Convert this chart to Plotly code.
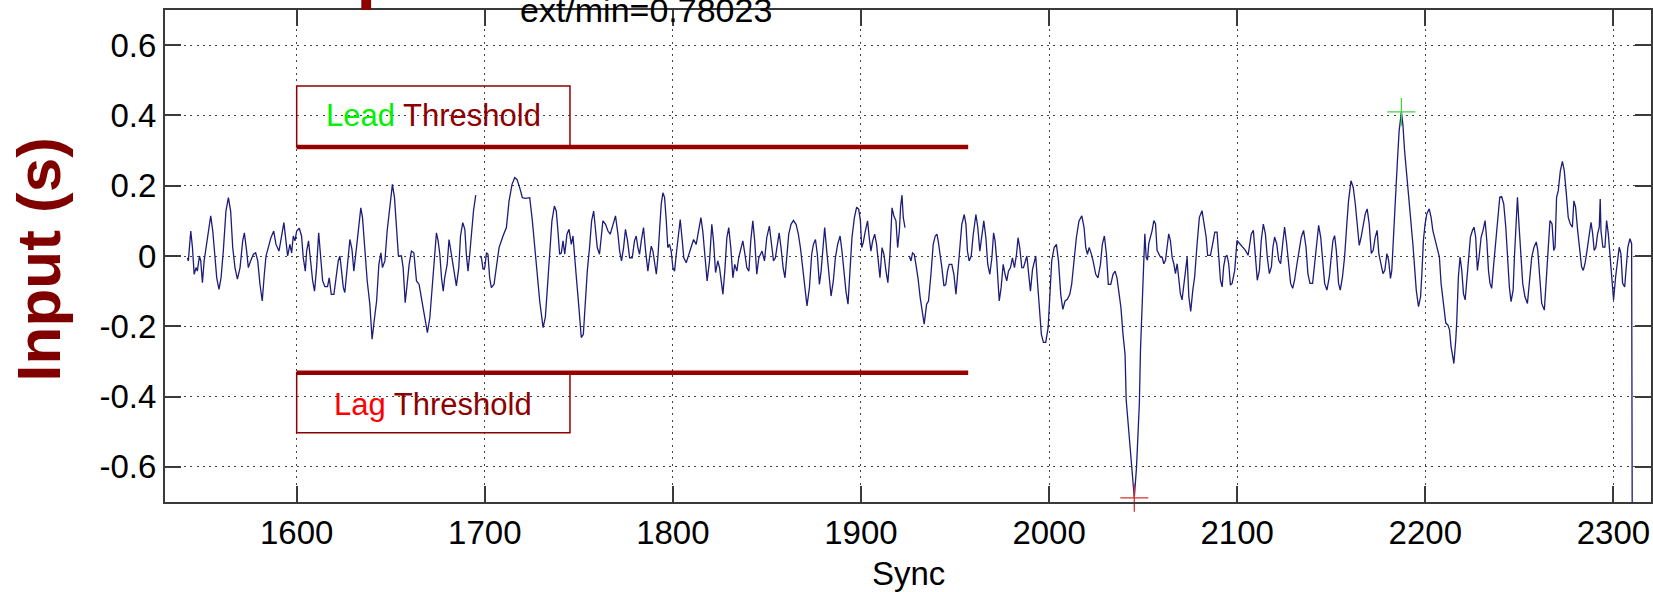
import numpy as np
import plotly.graph_objects as go

# Sync index (x) and measured input offset in seconds (y); None marks gaps in the record
sync = [
    1541.9, 1542.4, 1543.7, 1544.6, 1545.5, 1546.5, 1547.2, 1548.3, 1549.0, 1549.9,
    1550.8, 1551.8, 1553.1, 1554.3, 1555.4, 1556.3, 1557.5, 1558.7, 1559.8, 1561.0,
    1562.4, 1563.7, 1564.9, 1566.0, 1567.2, 1568.5, 1569.9, 1571.3, 1572.2, 1573.4,
    1574.3, 1575.5, 1577.0, 1578.2, 1579.3, 1580.5, 1581.7, 1582.8, 1583.7, 1584.9,
    1586.3, 1587.8, 1589.0, 1590.6, 1592.0, 1593.2, 1594.3, 1595.2, 1596.4, 1597.3,
    1598.2, 1599.1, 1600.0, 1601.4, 1602.6, 1603.5, 1604.6, 1605.3, 1606.3, 1607.4,
    1608.5, 1609.5, 1610.6, 1611.7, 1612.7, 1613.8, 1615.0, 1616.4, 1617.3, 1618.4,
    1619.8, 1621.2, 1622.1, 1623.0, 1623.9, 1624.8, 1625.6, 1626.9, 1628.3, 1629.4,
    1630.4, 1631.8, 1633.1, 1634.1, 1635.0, 1636.3, 1637.5, 1638.9, 1640.1, 1641.2,
    1642.5, 1643.7, 1644.8, 1645.6, 1646.9, 1648.1, 1649.5, 1650.9, 1652.0, 1653.1,
    1654.1, 1655.7, 1656.6, 1657.7, 1658.7, 1659.8, 1661.0, 1662.3, 1663.7, 1665.1,
    1666.3, 1668.1, 1669.5, 1670.8, 1671.7, 1672.9, 1674.3, 1675.2, 1676.1, 1677.0,
    1677.9, 1678.7, 1680.0, 1681.0, 1682.3, 1683.5, 1684.9, 1686.2, 1687.1, 1688.3,
    1689.4, 1690.2, 1691.1, 1692.0, 1692.9, 1694.0, 1695.2, None,
    1697.3, 1698.2, 1699.1, 1700.0, 1700.9, 1701.7, 1702.6, 1703.5, 1704.9, 1706.2,
    1707.6, 1709.7, 1711.5, 1712.9, 1714.5, 1715.9, 1717.1, 1718.6, 1720.0, 1721.6,
    1723.9, 1725.3, 1726.5, 1727.9, 1729.2, 1731.0, 1732.2, 1733.3, 1734.5, 1735.7,
    1737.0, 1738.0, 1738.9, 1739.8, 1740.7, 1741.6, 1742.5, 1743.7, 1744.8, 1746.0,
    1746.9, 1747.8, 1748.7, 1749.9, 1751.3, 1752.4, 1753.4, 1754.5, 1755.7, 1756.8,
    1757.9, 1758.9, 1759.8, 1761.0, 1761.9, 1762.8, 1764.2, 1765.5, 1766.7, 1768.1,
    1769.5, 1770.8, 1771.7, 1772.7, 1773.8, 1774.8, 1775.9, 1777.0, 1778.4, 1779.6,
    1780.5, 1781.4, 1782.3, 1783.2, 1784.4, 1785.5, 1786.7, 1787.6, 1788.5, 1789.4,
    1790.3, 1791.2, 1792.0, 1792.9, 1793.8, 1794.7, 1795.6, 1796.5, 1797.3, 1798.2,
    1799.1, 1800.0, 1800.9, 1801.8, 1802.7, 1803.9, 1805.0, 1805.8, 1807.1, 1808.5,
    1809.7, 1811.0, 1812.4, 1813.6, 1814.9, 1815.9, 1817.0, 1818.2, 1819.5, 1820.7,
    1821.6, 1822.7, 1823.9, 1824.8, 1825.7, 1826.6, 1827.6, 1828.7, 1829.7, 1830.8,
    1831.9, 1832.9, 1834.0, 1835.0, 1836.3, 1837.2, 1838.2, 1839.3, 1840.4, 1841.4,
    1842.5, 1843.5, 1844.6, 1845.7, 1846.6, 1847.4, 1848.7, 1849.9, 1851.3, 1852.4,
    1853.5, 1854.5, 1855.6, 1856.5, 1857.5, 1858.6, 1859.6, 1860.5, 1861.6, 1862.8,
    1864.1, 1865.5, 1866.7, 1867.8, 1869.0, 1870.3, 1871.3, 1872.6, 1873.8, 1874.7,
    1875.8, 1876.8, 1877.9, 1878.8, 1879.7, 1880.7, 1881.8, 1882.8, 1884.1, 1885.3,
    1886.4, 1887.6, 1888.9, 1889.9, 1891.0, 1892.0, 1893.1, 1894.2, 1895.2, 1896.5,
    1897.7, 1898.8, 1899.7, 1900.4, 1901.2, 1902.3, 1903.5, 1904.4, 1905.3, 1906.2,
    1907.3, 1908.3, 1909.2, 1910.1, 1911.2, 1912.2, 1913.3, 1914.3, 1915.4, 1916.5,
    1917.5, 1918.6, 1919.5, 1920.4, 1921.1, 1921.8, 1922.5, 1923.4, None,
    1925.7, 1926.6, 1927.4, 1928.3, 1929.2, 1930.3, 1931.5, 1932.8, 1933.6, 1934.9,
    1935.9, 1937.2, 1938.4, 1939.5, 1940.4, 1941.2, 1942.1, 1943.0, 1944.1, 1945.1,
    1946.0, 1946.9, 1948.3, 1949.4, 1950.5, 1951.5, 1952.6, 1953.6, 1954.9, 1955.8,
    1956.6, 1957.5, 1958.6, 1959.7, 1961.1, 1962.1, 1963.2, 1964.3, 1965.3, 1966.4,
    1967.4, 1968.5, 1969.6, 1970.5, 1971.3, 1972.2, 1973.5, 1974.5, 1975.6, 1976.6,
    1977.5, 1978.4, 1979.5, 1980.5, 1981.6, 1982.7, 1983.5, 1984.4, 1985.5, 1986.4,
    1987.3, 1988.2, 1989.0, 1990.1, 1991.2, 1992.9, 1993.8, 1994.7, 1995.9, 1997.0,
    1998.2, 1999.5, 2000.4, 2001.4, 2002.7, 2003.9, 2005.0, 2006.2, 2007.3, 2008.5,
    2009.7, 2011.0, 2012.0, 2013.3, 2014.5, 2015.9, 2017.4, 2018.6, 2019.5, 2020.4,
    2021.3, 2022.3, 2023.4, 2024.8, 2026.0, 2027.3, 2028.3, 2029.4, 2030.5, 2031.5,
    2032.8, 2034.0, 2035.1, 2036.1, 2037.2, 2038.2, 2039.3, 2040.4, 2041.0, 2043.0,
    2045.3, 2046.5, 2048.0, 2048.6, 2049.8, 2050.9, 2051.6, 2052.3, 2053.0, 2053.9,
    2054.8, 2055.7, 2056.6, 2057.4, 2058.3, 2059.2, 2060.1, 2061.0, 2061.9, 2062.8,
    2063.6, 2064.5, 2065.4, 2066.3, 2067.2, 2068.1, 2069.0, 2069.8, 2070.7, 2071.6,
    2072.5, 2073.4, 2074.3, 2075.3, 2076.4, 2077.4, 2078.7, 2079.9, 2081.3, 2082.4,
    2083.5, 2084.3, 2085.8, 2087.0, 2088.1, 2089.3, 2090.2, 2091.1, 2092.0, 2092.8,
    2093.7, 2094.6, 2095.5, 2096.4, 2097.3, 2098.7, 2099.9, 2101.2, 2102.6, 2104.4,
    2105.8, 2106.5, 2107.5, 2108.6, 2109.7, 2110.7, 2111.8, 2112.8, 2113.9, 2115.0,
    2116.0, 2117.1, 2118.2, 2119.0, 2119.9, 2121.0, 2122.1, 2123.1, 2124.2, 2125.2,
    2126.3, 2127.4, 2128.4, 2129.5, 2130.5, 2131.8, 2133.0, 2134.1, 2135.3, 2136.6,
    2137.6, 2138.7, 2140.1, 2141.2, 2142.2, 2143.3, 2144.4, 2145.4, 2146.5, 2147.7,
    2149.0, 2150.0, 2150.9, 2151.8, 2152.7, 2153.9, 2154.8, 2156.0, 2157.1, 2158.3,
    2159.2, 2160.5, 2161.7, 2162.8, 2163.8, 2164.9, 2165.9, 2167.0, 2168.1, 2169.1,
    2170.2, 2171.3, 2172.3, 2173.4, 2174.4, 2175.3, 2176.4, 2177.5, 2178.5, 2179.6,
    2180.5, 2181.5, 2182.2, 2183.1, 2184.0, 2185.1, 2186.1, 2187.3, 2188.1, 2189.0,
    2189.8, 2190.7, 2191.6, 2192.5, 2193.4, 2194.3, 2195.2, 2196.4, 2197.5, 2198.2,
    2199.0, 2199.9, 2200.8, 2202.1, 2203.1, 2204.0, 2204.9, 2205.8, 2206.7, 2207.5,
    2208.4, 2209.7, 2210.9, 2212.0, 2212.9, 2213.7, 2215.2, 2216.2, 2216.7, 2217.6,
    2218.5, 2219.4, 2220.3, 2221.2, 2222.1, 2222.9, 2224.0, 2225.1, 2225.9, 2226.8,
    2227.7, 2228.6, 2229.7, 2230.7, 2231.8, 2232.7, 2233.6, 2234.4, 2235.3, 2236.4,
    2237.5, 2238.5, 2239.6, 2240.6, 2241.7, 2242.8, 2243.8, 2244.7, 2245.6, 2246.7,
    2247.4, 2248.3, 2249.0, 2249.8, 2250.9, 2251.8, 2253.0, 2254.3, 2255.3, 2256.6,
    2257.8, 2259.0, 2259.8, 2260.8, 2261.9, 2263.3, 2264.4, 2265.1, 2266.3, 2267.4,
    2268.3, 2269.0, 2269.8, 2270.7, 2271.8, 2272.9, 2273.9, 2275.0, 2276.0, 2277.1,
    2278.2, 2279.0, 2279.9, 2281.0, 2282.1, 2283.1, 2284.0, 2284.9, 2286.0, 2287.0,
    2288.1, 2289.0, 2289.8, 2290.7, 2291.6, 2292.5, 2293.0, 2293.4, 2294.4, 2295.5,
    2296.4, 2297.3, 2298.2, 2299.1, 2300.1, 2301.2, 2302.2, 2303.1, 2304.0, 2304.9,
    2306.0, 2306.8, 2307.7, 2308.8, 2309.7, 2310.1,
]

offset_s = [
    -0.005, -0.014, 0.071, 0.024, -0.052, -0.033, -0.043, 0.0, -0.014, -0.076,
    -0.014, 0.024, 0.071, 0.114, 0.071, 0.005, -0.062, -0.095, -0.062, 0.014,
    0.128, 0.166, 0.128, 0.024, -0.033, -0.066, -0.033, 0.043, 0.066, 0.014,
    -0.033, -0.014, 0.005, 0.009, -0.014, -0.081, -0.128, -0.052, 0.0, 0.024,
    0.052, 0.071, 0.033, 0.014, 0.057, 0.095, 0.043, 0.0, 0.033, 0.009,
    0.057, 0.043, 0.071, 0.079, 0.057, -0.005, -0.043, 0.014, 0.043, -0.014,
    -0.071, -0.1, -0.033, 0.066, 0.005, -0.071, -0.087, -0.087, -0.062, -0.109,
    -0.109, -0.052, -0.014, 0.0, -0.052, -0.09, -0.104, -0.033, 0.047, 0.019,
    -0.043, 0.024, 0.081, 0.137, 0.109, 0.005, -0.071, -0.137, -0.237, -0.185,
    -0.128, -0.024, 0.009, -0.033, -0.014, 0.071, 0.147, 0.204, 0.166, 0.062,
    0.0, 0.0, -0.033, -0.133, -0.081, -0.024, 0.014, 0.009, -0.071, -0.081,
    -0.119, -0.175, -0.218, -0.175, -0.109, -0.043, 0.066, 0.043, 0.005, -0.062,
    -0.1, -0.062, -0.024, 0.047, 0.005, -0.038, -0.085, -0.033, 0.057, 0.095,
    0.076, 0.005, -0.043, 0.005, 0.071, 0.128, 0.173, None,
    0.0, -0.005, -0.038, -0.033, 0.009, 0.005, -0.062, -0.09, -0.081, -0.024,
    0.024, 0.057, 0.081, 0.156, 0.204, 0.223, 0.218, 0.194, 0.166, 0.164,
    0.166, 0.1, 0.033, -0.038, -0.128, -0.204, -0.175, -0.09, 0.005, 0.1,
    0.142, 0.128, 0.071, 0.005, 0.009, 0.043, 0.005, 0.062, 0.076, 0.033,
    0.057, -0.014, -0.062, -0.137, -0.232, -0.223, -0.137, -0.043, 0.024, 0.1,
    0.128, 0.071, 0.024, 0.005, 0.062, 0.1, 0.09, 0.071, 0.062, 0.09,
    0.114, 0.062, 0.014, -0.014, 0.024, 0.076, 0.043, -0.005, -0.005, 0.043,
    0.057, 0.024, 0.005, 0.043, 0.081, 0.014, -0.043, -0.005, 0.028, 0.014,
    -0.024, -0.052, -0.005, 0.071, 0.147, 0.18, 0.166, 0.1, 0.024, 0.033,
    0.014, -0.033, -0.043, 0.005, 0.052, 0.104, 0.043, -0.005, -0.019, 0.005,
    0.019, 0.047, 0.033, 0.071, 0.109, 0.071, -0.005, -0.071, -0.014, 0.09,
    0.043, -0.047, -0.014, -0.033, -0.071, -0.109, -0.043, 0.052, 0.081, 0.024,
    -0.062, -0.024, -0.043, -0.005, 0.024, 0.043, 0.009, -0.033, -0.043, 0.043,
    0.1, 0.043, -0.052, -0.005, 0.005, 0.014, -0.014, 0.052, 0.085, 0.043,
    -0.014, -0.005, 0.033, 0.066, 0.024, -0.033, -0.062, 0.005, 0.062, 0.09,
    0.101, 0.09, 0.062, 0.024, -0.033, -0.1, -0.142, -0.09, 0.005, 0.033,
    0.047, 0.005, -0.081, -0.043, 0.024, 0.081, 0.014, -0.052, -0.114, -0.071,
    -0.005, 0.033, 0.057, 0.014, -0.052, -0.1, -0.137, -0.043, 0.052, 0.109,
    0.139, 0.133, 0.1, 0.024, 0.038, 0.071, 0.1, 0.052, 0.014, 0.043,
    0.062, 0.033, -0.014, -0.062, 0.024, 0.005, -0.043, -0.076, 0.005, 0.137,
    0.114, 0.1, 0.024, 0.071, 0.142, 0.173, 0.109, 0.081, None,
    0.0, -0.014, 0.009, 0.005, -0.024, -0.062, -0.119, -0.166, -0.194, -0.137,
    -0.128, -0.052, 0.033, 0.057, 0.062, 0.038, 0.005, -0.033, -0.085, -0.081,
    -0.043, -0.024, -0.024, -0.052, -0.109, -0.052, 0.033, 0.09, 0.118, 0.09,
    0.014, -0.014, 0.0, 0.062, 0.118, 0.081, 0.014, 0.052, 0.1, 0.052,
    -0.024, -0.052, -0.005, 0.066, 0.043, -0.014, -0.128, -0.09, -0.024, -0.052,
    -0.071, -0.043, -0.033, -0.005, -0.033, 0.005, 0.052, 0.024, -0.033, -0.033,
    -0.014, 0.0, -0.043, -0.1, -0.038, 0.0, -0.071, -0.147, -0.223, -0.246,
    -0.246, -0.204, -0.109, -0.014, 0.024, 0.033, -0.014, -0.109, -0.152, -0.128,
    -0.123, -0.109, -0.081, -0.014, 0.052, 0.1, 0.114, 0.081, 0.024, 0.005,
    0.024, 0.009, -0.014, -0.052, -0.062, -0.024, 0.033, 0.057, 0.005, -0.081,
    -0.081, -0.052, -0.043, -0.062, -0.1, -0.147, -0.223, -0.28, -0.41, -0.55,
    -0.688, -0.6, -0.42, -0.267, -0.107, 0.063, -0.003, -0.012, 0.035, 0.054,
    0.073, 0.101, 0.091, 0.016, 0.007, -0.003, -0.003, -0.022, -0.012, 0.025,
    0.063, 0.044, -0.003, -0.022, -0.05, -0.022, -0.069, -0.107, -0.125, -0.078,
    -0.041, -0.003, -0.116, -0.158, -0.097, -0.059, 0.035, 0.11, 0.129, 0.091,
    0.054, 0.002, 0.002, 0.035, 0.068, 0.068, -0.003, -0.069, -0.088, -0.031,
    -0.003, 0.002, -0.022, -0.083, -0.078, -0.041, 0.044, 0.035, 0.025, 0.016,
    0.002, 0.025, 0.063, 0.073, -0.003, -0.069, -0.041, 0.044, 0.091, 0.063,
    -0.003, -0.05, -0.031, 0.025, 0.054, 0.035, -0.012, -0.022, 0.035, 0.082,
    0.035, -0.022, -0.078, -0.092, -0.069, -0.022, 0.025, 0.054, 0.073, 0.025,
    -0.05, -0.078, -0.078, -0.022, 0.035, 0.087, 0.054, -0.022, -0.078, -0.097,
    -0.059, -0.003, 0.044, 0.058, 0.016, -0.078, -0.097, -0.059, -0.003, 0.091,
    0.157, 0.214, 0.195, 0.148, 0.091, 0.03, 0.054, 0.091, 0.12, 0.134,
    0.091, 0.007, 0.016, 0.054, 0.073, 0.007, -0.022, -0.05, -0.041, 0.007,
    -0.012, -0.064, -0.041, 0.073, 0.148, 0.261, 0.356, 0.41, 0.374, 0.299,
    0.252, 0.205, 0.157, 0.091, 0.035, -0.031, -0.097, -0.144, -0.116, -0.05,
    0.044, 0.091, 0.12, 0.134, 0.11, 0.073, 0.054, 0.035, 0.016, -0.003,
    -0.078, -0.135, -0.191, -0.196, -0.21, -0.257, -0.306, -0.239, -0.191, -0.059,
    -0.003, -0.041, -0.107, -0.125, -0.069, -0.003, 0.054, 0.073, 0.082, 0.054,
    -0.041, -0.003, 0.054, 0.073, 0.101, 0.044, -0.041, -0.078, -0.092, -0.022,
    0.044, 0.11, 0.167, 0.169, 0.148, 0.082, -0.003, -0.088, -0.13, -0.097,
    -0.003, 0.091, 0.167, 0.091, -0.003, -0.078, -0.116, -0.135, -0.078, -0.003,
    0.025, 0.04, 0.016, -0.059, -0.135, -0.154, -0.059, 0.007, 0.101, 0.091,
    0.016, 0.025, 0.167, 0.186, 0.242, 0.269, 0.242, 0.176, 0.11, 0.091,
    0.082, 0.157, 0.139, 0.073, 0.025, -0.031, -0.041, -0.022, 0.016, 0.054,
    0.096, 0.063, 0.016, 0.025, 0.063, 0.082, 0.162, 0.073, 0.025, 0.025,
    0.101, 0.063, -0.003, -0.078, -0.125, -0.059, -0.003, 0.025, 0.007, -0.078,
    -0.088, -0.022, 0.025, 0.049, 0.035, -0.95,
]

# Axis limits and tick values
x_range = [1530, 2320]
y_range = [-0.7, 0.7]
x_ticks = [1600, 1700, 1800, 1900, 2000, 2100, 2200, 2300]
y_ticks = [0.6, 0.4, 0.2, 0, -0.2, -0.4, -0.6]
y_tick_text = ["0.6", "0.4", "0.2", "0", "-0.2", "-0.4", "-0.6"]

# Lead / lag threshold levels and their horizontal extent
lead_threshold = 0.31
lag_threshold = -0.332
threshold_span = [1600, 1957]

# Label boxes attached to each threshold line
label_box_x = [1600, 1745.3]
lead_box_top = 0.4835
lag_box_bottom = -0.5026

ext_min_text = "ext/min=0.78023"

DARK_RED = "#8e0000"
LINE_BLUE = "#1c1c7a"
FONT = "Liberation Sans, Arial, sans-serif"

# Extremes of the trace, flagged with crosses (last sample is the off-scale drop)
vals = np.array([np.nan if v is None else v for v in offset_s], dtype=float)
i_max = int(np.nanargmax(vals[:-1]))
i_min = int(np.nanargmin(vals[:-1]))

fig = go.Figure()

fig.add_trace(go.Scatter(
    x=sync, y=offset_s, mode="lines",
    line=dict(color=LINE_BLUE, width=1.3),
    connectgaps=False, hoverinfo="skip", showlegend=False,
))

for level in (lead_threshold, lag_threshold):
    fig.add_trace(go.Scatter(
        x=threshold_span, y=[level, level], mode="lines",
        line=dict(color="#9b0000", width=4.5),
        hoverinfo="skip", showlegend=False,
    ))

fig.add_trace(go.Scatter(
    x=[sync[i_max]], y=[offset_s[i_max]], mode="markers",
    marker=dict(symbol="cross-thin", size=20, line=dict(color="#45d045", width=1.3)),
    showlegend=False, cliponaxis=False,
))
fig.add_trace(go.Scatter(
    x=[sync[i_min]], y=[offset_s[i_min]], mode="markers",
    marker=dict(symbol="cross-thin", size=20, line=dict(color="#d83030", width=1.3)),
    showlegend=False, cliponaxis=False,
))

# Threshold label boxes
for y0, y1 in ((lead_threshold, lead_box_top), (lag_box_bottom, lag_threshold)):
    fig.add_shape(type="rect", xref="x", yref="y",
                  x0=label_box_x[0], x1=label_box_x[1], y0=y0, y1=y1,
                  line=dict(color=DARK_RED, width=1.5), fillcolor="rgba(0,0,0,0)")

box_cx = (label_box_x[0] + label_box_x[1]) / 2
fig.add_annotation(x=box_cx, y=(lead_threshold + lead_box_top) / 2 + 0.003, xref="x", yref="y",
                   text="<span style='color:#00f000'>Lead</span> Threshold",
                   showarrow=False, xanchor="center", yanchor="middle",
                   font=dict(family=FONT, size=31, color=DARK_RED))
fig.add_annotation(x=box_cx, y=(lag_box_bottom + lag_threshold) / 2 - 0.005, xref="x", yref="y",
                   text="<span style='color:#ff0000'>Lag</span> Threshold",
                   showarrow=False, xanchor="center", yanchor="middle",
                   font=dict(family=FONT, size=31, color=DARK_RED))

# Top annotation, partly cut by the page edge
fig.add_annotation(x=0.3239, y=1.0006, xref="paper", yref="paper",
                   text=ext_min_text, showarrow=False,
                   xanchor="center", yanchor="middle",
                   font=dict(family=FONT, size=34, color="black"))

# Fragment of the figure title glyph visible above the axes
fig.add_shape(type="rect", xref="paper", yref="paper",
              x0=0.1321, x1=0.1387, y0=1.0, y1=1.04,
              line=dict(width=0), fillcolor="#8e0000", layer="above")

# Axis titles
fig.add_annotation(x=0.5, y=0, xref="paper", yref="paper", yshift=-71,
                   text="Sync", showarrow=False, xanchor="center", yanchor="middle",
                   font=dict(family=FONT, size=33, color="black"))
fig.add_annotation(x=-0.0853, y=0.493, xref="paper", yref="paper",
                   text="<b>Input (s)</b>", textangle=-90, showarrow=False,
                   xanchor="center", yanchor="middle",
                   font=dict(family=FONT, size=62, color="#800000"))

axis_common = dict(
    showline=True, linecolor="#3a3a3a", linewidth=2, mirror="ticks",
    ticks="inside", ticklen=16, tickwidth=1.6, tickcolor="#3a3a3a",
    showgrid=True, gridcolor="#444444", gridwidth=1.3, griddash="2px,4.3px",
    zeroline=False, tickfont=dict(family=FONT, size=33, color="black"),
)

fig.update_xaxes(range=x_range, tickvals=x_ticks, ticktext=[str(t) for t in x_ticks],
                 **axis_common)
fig.update_yaxes(range=y_range, tickvals=y_ticks, ticktext=y_tick_text, **axis_common)

fig.update_layout(
    width=1653, height=592,
    margin=dict(l=165, r=0, t=10, b=90),
    plot_bgcolor="white", paper_bgcolor="white",
    showlegend=False,
)

fig.write_html("out.html")
